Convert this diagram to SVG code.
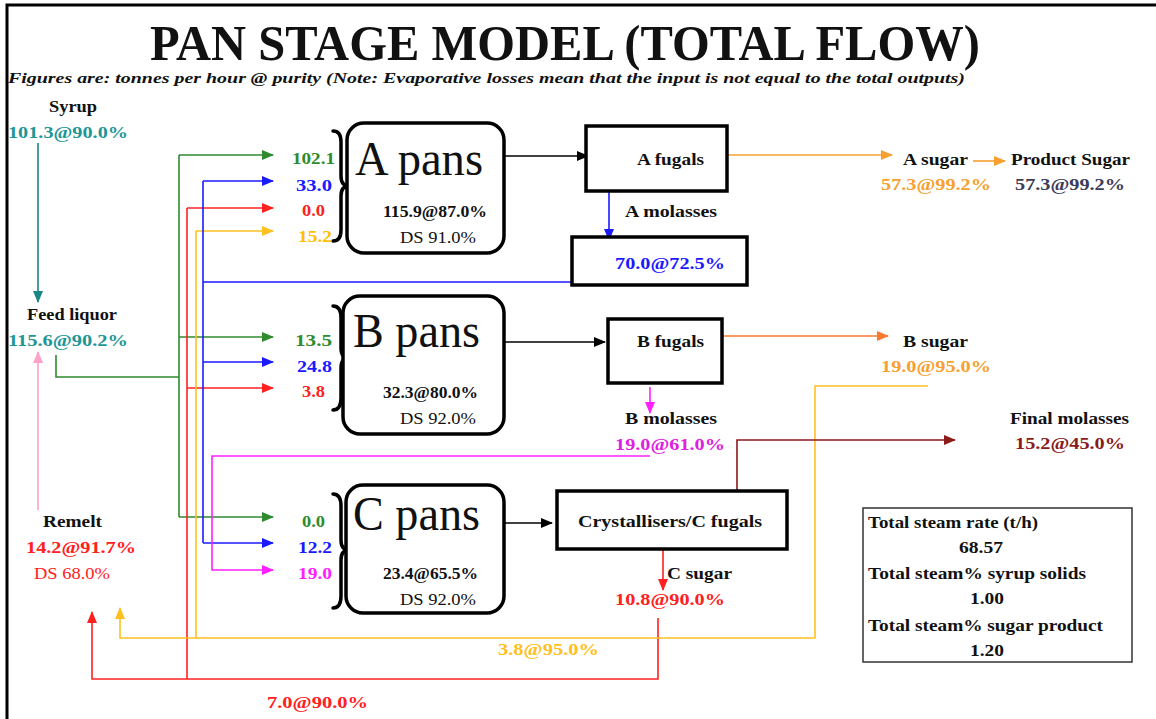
<svg xmlns="http://www.w3.org/2000/svg" width="1156" height="719" viewBox="0 0 1156 719">
<style>
text{font-family:"Liberation Serif","Times New Roman",serif;font-weight:bold;font-size:16px;fill:#111}
.n{font-weight:normal}
.big{font-weight:normal;font-size:48px}
.teal{fill:#1e9696}.grn{fill:#2e8b2e}.blu{fill:#1a1aff}.red{fill:#ff2020}.yel{fill:#ffc000}.mag{fill:#ff20ff}.org{fill:#f7a030}.brn{fill:#8b1a1a}.slate{fill:#3c3c5a}
.pan{fill:#fff;stroke:#000;stroke-width:3.5}
.box{fill:#fff;stroke:#000;stroke-width:3.5}
.brace{fill:none;stroke:#000;stroke-width:3.5;stroke-linecap:round}
.c{fill:none;stroke-width:1.6}
</style>
<defs>
<marker id="mg" markerWidth="12" markerHeight="10" refX="11" refY="5" orient="auto" markerUnits="userSpaceOnUse"><path d="M0,0 L12,5 L0,10 z" fill="#2e8b2e"/></marker>
<marker id="mb" markerWidth="12" markerHeight="10" refX="11" refY="5" orient="auto" markerUnits="userSpaceOnUse"><path d="M0,0 L12,5 L0,10 z" fill="#1a1aff"/></marker>
<marker id="mr" markerWidth="12" markerHeight="10" refX="11" refY="5" orient="auto" markerUnits="userSpaceOnUse"><path d="M0,0 L12,5 L0,10 z" fill="#ff2020"/></marker>
<marker id="my" markerWidth="12" markerHeight="10" refX="11" refY="5" orient="auto" markerUnits="userSpaceOnUse"><path d="M0,0 L12,5 L0,10 z" fill="#ffc020"/></marker>
<marker id="mm" markerWidth="12" markerHeight="10" refX="11" refY="5" orient="auto" markerUnits="userSpaceOnUse"><path d="M0,0 L12,5 L0,10 z" fill="#ff20ff"/></marker>
<marker id="mt" markerWidth="12" markerHeight="10" refX="11" refY="5" orient="auto" markerUnits="userSpaceOnUse"><path d="M0,0 L12,5 L0,10 z" fill="#1a8585"/></marker>
<marker id="mp" markerWidth="12" markerHeight="10" refX="11" refY="5" orient="auto" markerUnits="userSpaceOnUse"><path d="M0,0 L12,5 L0,10 z" fill="#ffa0c8"/></marker>
<marker id="mo" markerWidth="12" markerHeight="10" refX="11" refY="5" orient="auto" markerUnits="userSpaceOnUse"><path d="M0,0 L12,5 L0,10 z" fill="#f7a030"/></marker>
<marker id="mo2" markerWidth="12" markerHeight="10" refX="11" refY="5" orient="auto" markerUnits="userSpaceOnUse"><path d="M0,0 L12,5 L0,10 z" fill="#f77a30"/></marker>
<marker id="mn" markerWidth="12" markerHeight="10" refX="11" refY="5" orient="auto" markerUnits="userSpaceOnUse"><path d="M0,0 L12,5 L0,10 z" fill="#8b1a1a"/></marker>
<marker id="mk" markerWidth="12" markerHeight="10" refX="11" refY="5" orient="auto" markerUnits="userSpaceOnUse"><path d="M0,0 L12,5 L0,10 z" fill="#000"/></marker>
</defs>
<rect width="1156" height="719" fill="#fff"/>
<path d="M7,719 V5 H1156" fill="none" stroke="#000" stroke-width="3"/>

<g id="title">
<text x="150" y="60" style="font-size:50px" textLength="830" lengthAdjust="spacingAndGlyphs">PAN STAGE MODEL (TOTAL FLOW)</text>
<text x="8" y="83" style="font-size:15px;font-style:italic" textLength="957" lengthAdjust="spacingAndGlyphs">Figures are: tonnes per hour @ purity  (Note: Evaporative losses mean that the input is not equal to the total outputs)</text>
</g>

<g id="connectors">
<path class="c" stroke="#1a8585" d="M38,143 V302" marker-end="url(#mt)"/>
<path class="c" stroke="#ffa0c8" d="M38,510 V352" marker-end="url(#mp)"/>
<path class="c" stroke="#2e8b2e" d="M56,355 V377 H179"/>
<path class="c" stroke="#2e8b2e" d="M179,155 V517"/>
<path class="c" stroke="#2e8b2e" d="M179,155 H273" marker-end="url(#mg)"/>
<path class="c" stroke="#2e8b2e" d="M179,337 H273" marker-end="url(#mg)"/>
<path class="c" stroke="#2e8b2e" d="M179,517 H273" marker-end="url(#mg)"/>
<path class="c" stroke="#ff2020" d="M187,208 V679"/>
<path class="c" stroke="#ff2020" d="M187,208 H273" marker-end="url(#mr)"/>
<path class="c" stroke="#ff2020" d="M187,388 H273" marker-end="url(#mr)"/>
<path class="c" stroke="#ff2020" d="M658,618 V679 H92 V612" marker-end="url(#mr)"/>
<path class="c" stroke="#ff2020" d="M663,549 V590" marker-end="url(#mr)"/>
<path class="c" stroke="#ffc020" d="M196,231 V638"/>
<path class="c" stroke="#ffc020" d="M196,231 H273" marker-end="url(#my)"/>
<path class="c" stroke="#ffc020" d="M928,386 H815 V638 H120 V608" marker-end="url(#my)"/>
<path class="c" stroke="#1a1aff" d="M203,181 V543"/>
<path class="c" stroke="#1a1aff" d="M203,181 H273" marker-end="url(#mb)"/>
<path class="c" stroke="#1a1aff" d="M203,362 H273" marker-end="url(#mb)"/>
<path class="c" stroke="#1a1aff" d="M203,543 H273" marker-end="url(#mb)"/>
<path class="c" stroke="#1a1aff" d="M203,282 H572"/>
<path class="c" stroke="#1a1aff" d="M609,191 V240" marker-end="url(#mb)"/>
<path class="c" stroke="#ff20ff" d="M650,387 V413" marker-end="url(#mm)"/>
<path class="c" stroke="#ff20ff" d="M650,456 H212 V570 H273" marker-end="url(#mm)"/>
<path class="c" stroke="#8b1a1a" d="M737,491 V440 H955" marker-end="url(#mn)"/>
<path class="c" stroke="#f7a030" d="M727,155 H892" marker-end="url(#mo)"/>
<path class="c" stroke="#f7a030" d="M973,161 H1005" marker-end="url(#mo)"/>
<path class="c" stroke="#f77a30" d="M722,336 H888" marker-end="url(#mo2)"/>
<path class="c" stroke="#000" d="M504,156 H588" marker-end="url(#mk)"/>
<path class="c" stroke="#000" d="M504,342 H605" marker-end="url(#mk)"/>
<path class="c" stroke="#000" d="M504,523 H552" marker-end="url(#mk)"/>
</g>

<g id="syrup">
<text x="49" y="112" textLength="48" lengthAdjust="spacingAndGlyphs">Syrup</text>
<text class="teal" x="8" y="138" textLength="120" lengthAdjust="spacingAndGlyphs">101.3@90.0%</text>
</g>
<g id="feed-liquor">
<text x="27" y="320" textLength="90" lengthAdjust="spacingAndGlyphs">Feed liquor</text>
<text class="teal" x="8" y="346" textLength="120" lengthAdjust="spacingAndGlyphs">115.6@90.2%</text>
</g>
<g id="remelt">
<text x="43" y="527" textLength="59" lengthAdjust="spacingAndGlyphs">Remelt</text>
<text class="red" x="26" y="553" textLength="110" lengthAdjust="spacingAndGlyphs">14.2@91.7%</text>
<text class="red n" x="34" y="579" textLength="76" lengthAdjust="spacingAndGlyphs">DS 68.0%</text>
</g>

<g id="a-pans">
<path class="brace" d="M333,131 Q341,131 341,142 L341,176 Q341,186 349,186 Q341,186 341,196 L341,230 Q341,241 333,241"/>
<rect class="pan" x="347" y="123" width="157" height="130" rx="17"/>
<text class="big" x="355" y="175" textLength="128" lengthAdjust="spacingAndGlyphs">A pans</text>
<text x="383" y="217" textLength="104" lengthAdjust="spacingAndGlyphs">115.9@87.0%</text>
<text class="n" x="400" y="243" textLength="76" lengthAdjust="spacingAndGlyphs">DS 91.0%</text>
<text class="grn" x="292" y="164" textLength="43" lengthAdjust="spacingAndGlyphs">102.1</text>
<text class="blu" x="296" y="191" textLength="36" lengthAdjust="spacingAndGlyphs">33.0</text>
<text class="red" x="302" y="216" textLength="23" lengthAdjust="spacingAndGlyphs">0.0</text>
<text class="yel" x="298" y="242" textLength="34" lengthAdjust="spacingAndGlyphs">15.2</text>
</g>

<g id="b-pans">
<path class="brace" d="M333,306 Q341,306 341,318 L341,348 Q341,358 349,358 Q341,358 341,368 L341,398 Q341,410 333,410"/>
<rect class="pan" x="343" y="296" width="161" height="138" rx="17"/>
<text class="big" x="353" y="347" textLength="127" lengthAdjust="spacingAndGlyphs">B pans</text>
<text x="383" y="398" textLength="95" lengthAdjust="spacingAndGlyphs">32.3@80.0%</text>
<text class="n" x="400" y="424" textLength="76" lengthAdjust="spacingAndGlyphs">DS 92.0%</text>
<text class="grn" x="295" y="346" textLength="37" lengthAdjust="spacingAndGlyphs">13.5</text>
<text class="blu" x="297" y="372" textLength="35" lengthAdjust="spacingAndGlyphs">24.8</text>
<text class="red" x="302" y="397" textLength="23" lengthAdjust="spacingAndGlyphs">3.8</text>
</g>

<g id="c-pans">
<path class="brace" d="M333,494 Q341,494 341,506 L341,540 Q341,550 349,550 Q341,550 341,560 L341,596 Q341,608 333,608"/>
<rect class="pan" x="346" y="485" width="158" height="128" rx="17"/>
<text class="big" x="353" y="530" textLength="127" lengthAdjust="spacingAndGlyphs">C pans</text>
<text x="383" y="579" textLength="95" lengthAdjust="spacingAndGlyphs">23.4@65.5%</text>
<text class="n" x="400" y="605" textLength="76" lengthAdjust="spacingAndGlyphs">DS 92.0%</text>
<text class="grn" x="302" y="527" textLength="23" lengthAdjust="spacingAndGlyphs">0.0</text>
<text class="blu" x="298" y="553" textLength="34" lengthAdjust="spacingAndGlyphs">12.2</text>
<text class="mag" x="298" y="579" textLength="34" lengthAdjust="spacingAndGlyphs">19.0</text>
</g>

<g id="a-fugals">
<rect class="box" x="586" y="126" width="141" height="65"/>
<text x="637" y="165" textLength="67" lengthAdjust="spacingAndGlyphs">A fugals</text>
</g>
<g id="a-molasses">
<text x="625" y="217" textLength="92" lengthAdjust="spacingAndGlyphs">A molasses</text>
<rect class="box" x="572" y="237" width="175" height="48"/>
<text class="blu" x="615" y="269" textLength="110" lengthAdjust="spacingAndGlyphs">70.0@72.5%</text>
</g>
<g id="b-fugals">
<rect class="box" x="608" y="319" width="114" height="64"/>
<text x="637" y="347" textLength="67" lengthAdjust="spacingAndGlyphs">B fugals</text>
</g>
<g id="b-molasses">
<text x="625" y="424" textLength="92" lengthAdjust="spacingAndGlyphs">B molasses</text>
<text class="mag" x="615" y="450" textLength="110" lengthAdjust="spacingAndGlyphs" style="fill:#e020e0">19.0@61.0%</text>
</g>
<g id="crystallisers">
<rect class="box" x="557" y="491" width="230" height="58"/>
<text x="578" y="527" textLength="184" lengthAdjust="spacingAndGlyphs">Crystallisers/C fugals</text>
</g>
<g id="c-sugar">
<text x="667" y="579" textLength="65" lengthAdjust="spacingAndGlyphs">C sugar</text>
<text class="red" x="615" y="605" textLength="110" lengthAdjust="spacingAndGlyphs">10.8@90.0%</text>
</g>
<g id="recycle-labels">
<text class="yel" x="498" y="655" textLength="101" lengthAdjust="spacingAndGlyphs" style="fill:#ffc020">3.8@95.0%</text>
<text class="red" x="267" y="708" textLength="101" lengthAdjust="spacingAndGlyphs">7.0@90.0%</text>
</g>

<g id="a-sugar">
<text x="903" y="165" textLength="65" lengthAdjust="spacingAndGlyphs">A sugar</text>
<text class="org" x="881" y="190" textLength="110" lengthAdjust="spacingAndGlyphs">57.3@99.2%</text>
</g>
<g id="product-sugar">
<text x="1011" y="165" textLength="119" lengthAdjust="spacingAndGlyphs">Product Sugar</text>
<text class="slate" x="1015" y="190" textLength="110" lengthAdjust="spacingAndGlyphs">57.3@99.2%</text>
</g>
<g id="b-sugar">
<text x="903" y="347" textLength="65" lengthAdjust="spacingAndGlyphs">B sugar</text>
<text class="org" x="881" y="372" textLength="110" lengthAdjust="spacingAndGlyphs">19.0@95.0%</text>
</g>
<g id="final-molasses">
<text x="1010" y="424" textLength="119" lengthAdjust="spacingAndGlyphs">Final molasses</text>
<text class="brn" x="1015" y="449" textLength="110" lengthAdjust="spacingAndGlyphs">15.2@45.0%</text>
</g>

<g id="steam">
<rect x="863" y="508" width="269" height="154" fill="#fff" stroke="#333" stroke-width="1.5"/>
<text x="868" y="528" textLength="170" lengthAdjust="spacingAndGlyphs">Total steam rate (t/h)</text>
<text x="959" y="553" textLength="44" lengthAdjust="spacingAndGlyphs">68.57</text>
<text x="868" y="579" textLength="218" lengthAdjust="spacingAndGlyphs">Total steam% syrup solids</text>
<text x="970" y="604" textLength="34" lengthAdjust="spacingAndGlyphs">1.00</text>
<text x="868" y="631" textLength="235" lengthAdjust="spacingAndGlyphs">Total steam% sugar product</text>
<text x="970" y="656" textLength="34" lengthAdjust="spacingAndGlyphs">1.20</text>
</g>
</svg>
